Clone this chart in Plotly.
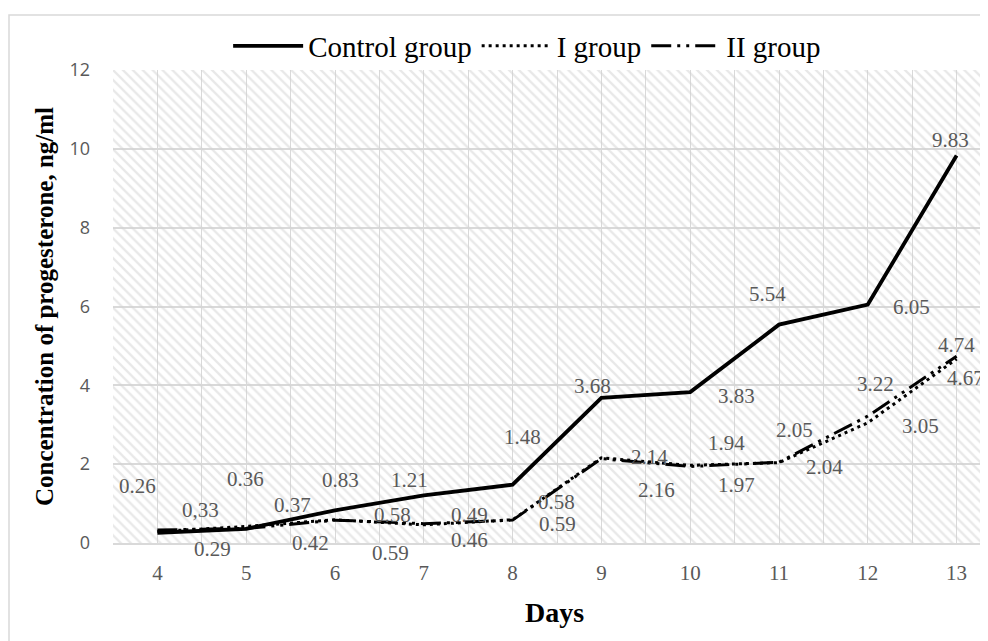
import plotly.graph_objects as go

days = [4, 5, 6, 7, 8, 9, 10, 11, 12, 13]
control = [0.26, 0.36, 0.83, 1.21, 1.48, 3.68, 3.83, 5.54, 6.05, 9.83]
group_1 = [0.29, 0.42, 0.59, 0.46, 0.59, 2.16, 1.97, 2.04, 3.05, 4.67]
group_2 = [0.33, 0.37, 0.58, 0.49, 0.58, 2.14, 1.94, 2.05, 3.22, 4.74]
control_text = ["0.26", "0.36", "0.83", "1.21", "1.48", "3.68", "3.83", "5.54", "6.05", "9.83"]
group_1_text = ["0.29", "0.42", "0.59", "0.46", "0.59", "2.16", "1.97", "2.04", "3.05", "4.67"]
group_2_text = ["0,33", "0.37", "0.58", "0.49", "0.58", "2.14", "1.94", "2.05", "3.22", "4.74"]
y_ticks = [0, 2, 4, 6, 8, 10, 12]

# label pixel offsets (style only)
control_off = [(-20, -47), (-1, -50), (5, -30), (-14, -15), (10, -48), (-9, -12), (46, 4), (-12, -31), (44, 2), (-6, -16)]
g1_off = [(55, 17), (64, 17), (55, 33), (46, 15), (45, 4), (55, 32), (46, 20), (45, 4), (53, 3), (9, 19)]
g2_off = [(43, -20), (46, -23), (57, -5), (46, -9), (44, -18), (48, -2), (36, -24), (15, -32), (8, -32), (0, -11)]

W, H = 988, 641
ML, MR, MT, MB = 105, 0, 62, 106
pw = W - ML - MR
ph = H - MT - MB
x0 = days[0] - 0.5
x_end = days[-1] + 0.5
cat_px = 88.8
x_right = x0 + pw / cat_px

GRID = "#d9d9d9"
LABEL = "#595959"
SERIF = "Liberation Serif, Times New Roman, serif"

fig = go.Figure()

# hatched plot-area background
fig.add_trace(go.Scatter(
    x=[x0, x_end, x_end, x0, x0], y=[0, 0, y_ticks[-1], y_ticks[-1], 0],
    mode="lines", line=dict(width=0), fill="toself",
    fillcolor="rgba(0,0,0,0)",
    fillpattern=dict(shape="\\", fgcolor="#d2d2d2", bgcolor="rgba(0,0,0,0)", size=7, solidity=0.33),
    hoverinfo="skip", showlegend=False,
))

fig.add_trace(go.Scatter(x=days, y=control, mode="lines", name="Control group",
                         line=dict(color="black", width=3.8)))
fig.add_trace(go.Scatter(x=days, y=group_1, mode="lines", name="I group",
                         line=dict(color="black", width=3, dash="3px,4px")))
fig.add_trace(go.Scatter(x=days, y=group_2, mode="lines", name="II group",
                         line=dict(color="black", width=3, dash="20px,6px,3px,6px,3px,6px")))

annotations = []
for vals, texts, offs in [(control, control_text, control_off),
                          (group_1, group_1_text, g1_off),
                          (group_2, group_2_text, g2_off)]:
    for d, v, t, (dx, dy) in zip(days, vals, texts, offs):
        annotations.append(dict(x=d, y=v, text=t, showarrow=False, xshift=dx, yshift=-dy,
                                font=dict(family=SERIF, size=21, color=LABEL)))

fig.update_layout(
    width=W, height=H,
    margin=dict(l=ML, r=MR, t=MT, b=MB),
    paper_bgcolor="white", plot_bgcolor="white",
    showlegend=True,
    legend=dict(orientation="h", x=0.469, y=1 + 24 / ph, xanchor="center", yanchor="middle",
                font=dict(family=SERIF, size=29, color="black"), itemwidth=70,
                bgcolor="rgba(0,0,0,0)", tracegroupgap=0),
    annotations=annotations,
    shapes=[dict(type="rect", xref="paper", yref="paper",
                 x0=(1 - ML) / pw, x1=1.2, y0=-0.5, y1=1 + (MT - 7) / ph,
                 line=dict(color=GRID, width=1.5), layer="below")],
)

fig.update_xaxes(
    range=[x0, x_right], tickmode="array", tickvals=days, ticktext=[str(d) for d in days],
    showgrid=True, gridcolor=GRID, gridwidth=1,
    minor=dict(tickmode="array", tickvals=[d - 0.5 for d in days] + [x_end], showgrid=True,
               gridcolor=GRID, gridwidth=1),
    showline=True, linecolor=GRID, linewidth=1.5, zeroline=False, ticks="",
    ticklabelstandoff=10,
    tickfont=dict(family=SERIF, size=21, color=LABEL),
    title=dict(text="<b>Days</b>", font=dict(family=SERIF, size=28, color="black"), standoff=18),
)
fig.update_yaxes(
    range=[0, y_ticks[-1]], tickmode="array", tickvals=y_ticks,
    showgrid=True, gridcolor=GRID, gridwidth=1.5, zeroline=False, showline=False, ticks="",
    ticklabelstandoff=22,
    tickfont=dict(family="Open Sans, sans-serif", size=18, color=LABEL),
    title=dict(text="<b>Concentration of progesterone, ng/ml</b>",
               font=dict(family=SERIF, size=25, color="black"), standoff=8),
)

fig.write_html("out.html")
